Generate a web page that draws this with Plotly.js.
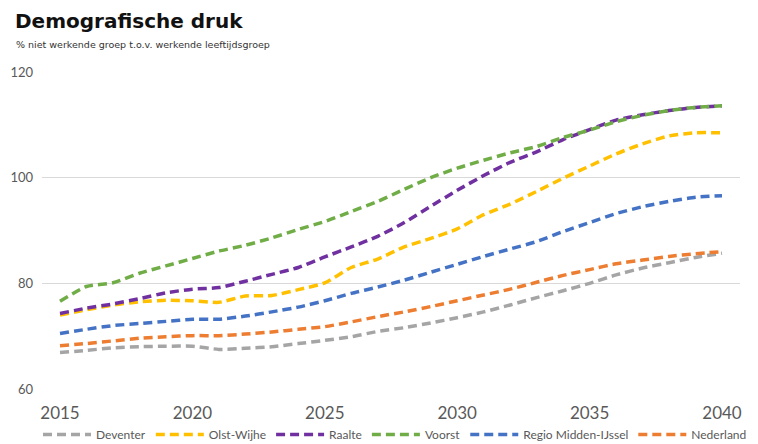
<!DOCTYPE html>
<html>
<head>
<meta charset="utf-8">
<script src="https://cdn.plot.ly/plotly-3.0.1.min.js"></script>
<style>html,body{margin:0;padding:0;background:#fff;}#chart{width:758px;height:444px;}</style>
</head>
<body>
<div id="chart"></div>
<script>
const years = [2015,2016,2017,2018,2019,2020,2021,2022,2023,2024,2025,2026,2027,2028,2029,2030,2031,2032,2033,2034,2035,2036,2037,2038,2039,2040];
const deventer = [66.9,67.3,67.8,68.0,68.1,68.1,67.5,67.7,68.0,68.6,69.2,69.9,70.9,71.6,72.5,73.5,74.6,75.9,77.3,78.6,80.0,81.6,82.9,83.9,84.9,85.7];
const olstWijhe = [74.0,75.0,75.9,76.5,76.8,76.7,76.4,77.6,77.7,78.8,80.1,83.0,84.6,86.9,88.5,90.3,93.0,95.0,97.4,99.9,102.2,104.5,106.4,107.9,108.5,108.5];
const raalte = [74.3,75.3,76.1,77.1,78.2,78.9,79.2,80.4,81.7,83.0,85.0,86.9,88.9,91.5,94.6,97.6,100.4,102.9,104.9,107.2,109.1,110.9,111.9,112.7,113.3,113.6];
const voorst = [76.6,79.4,80.1,81.9,83.3,84.7,86.1,87.2,88.6,90.2,91.7,93.6,95.5,97.8,100.0,101.8,103.3,104.7,105.9,107.6,109.0,110.6,111.8,112.7,113.3,113.6];
const regio = [70.5,71.3,72.0,72.4,72.8,73.2,73.2,73.8,74.6,75.5,76.7,78.1,79.3,80.6,82.1,83.6,85.1,86.5,87.9,89.8,91.5,93.2,94.5,95.5,96.3,96.6];
const nederland = [68.2,68.6,69.1,69.6,69.9,70.1,70.1,70.4,70.8,71.3,71.8,72.7,73.7,74.6,75.6,76.7,77.8,78.9,80.2,81.5,82.6,83.7,84.4,85.1,85.6,86.0];
const seriesNames = ["Deventer","Olst-Wijhe","Raalte","Voorst","Regio Midden-IJssel","Nederland"];
const seriesColors = ["#A5A5A5","#FFC000","#7030A0","#70AD47","#4472C4","#ED7D31"];
const seriesValues = [deventer, olstWijhe, raalte, voorst, regio, nederland];
const xTicks = [2015,2020,2025,2030,2035,2040];
const yTicks = [60,80,100,120];

const traces = seriesValues.map((vals, i) => ({
  x: years, y: vals, name: seriesNames[i], type: 'scatter', mode: 'lines',
  line: {color: seriesColors[i], width: 3.5, dash: '9px,5px', shape: 'spline', smoothing: 0.6},
  hoverinfo: 'skip'
}));

const L = 42, R = 740, T = 72, B = 389;
const px = v => (v - L) / (R - L);
const py = v => (B - v) / (B - T);

const layout = {
  width: 758, height: 444,
  margin: {l: L, r: 758 - R, t: T, b: 444 - B, pad: 0, autoexpand: false},
  paper_bgcolor: '#fff', plot_bgcolor: '#fff',
  showlegend: true,
  font: {family: 'Lato, sans-serif', color: '#595959'},
  xaxis: {
    range: [2014.32, 2040.68], tickvals: xTicks, ticktext: xTicks.map(String),
    showgrid: false, zeroline: false, showline: false, ticks: '', ticklabelstandoff: 12,
    tickfont: {size: 17, color: '#595959', family: 'Lato, sans-serif'}, automargin: false
  },
  yaxis: {
    range: [60, 120], tickvals: yTicks, showgrid: true, gridcolor: '#D9D9D9', gridwidth: 1,
    zeroline: false, showline: false, ticks: '', ticklabelstandoff: 8,
    tickfont: {size: 13, color: '#595959', family: 'Lato, sans-serif'}, automargin: false
  },
  legend: {
    orientation: 'h', x: px(38), xanchor: 'left', y: py(420), yanchor: 'top',
    font: {size: 12, color: '#595959', family: 'Lato, sans-serif'},
    itemwidth: 48, tracegroupgap: 0, bgcolor: 'rgba(0,0,0,0)'
  },
  annotations: [
    {text: '<b>Demografische druk</b>', xref: 'paper', yref: 'paper', x: px(13), y: py(21),
     xanchor: 'left', yanchor: 'middle', showarrow: false,
     font: {family: 'DejaVu Sans, sans-serif', size: 20, color: '#111'}},
    {text: '% niet werkende groep t.o.v. werkende leeftijdsgroep', xref: 'paper', yref: 'paper', x: px(14), y: py(44),
     xanchor: 'left', yanchor: 'middle', showarrow: false,
     font: {family: 'DejaVu Sans, sans-serif', size: 9.5, color: '#333'}}
  ]
};

Plotly.newPlot('chart', traces, layout, {displayModeBar: false, staticPlot: true});
</script>
</body>
</html>
